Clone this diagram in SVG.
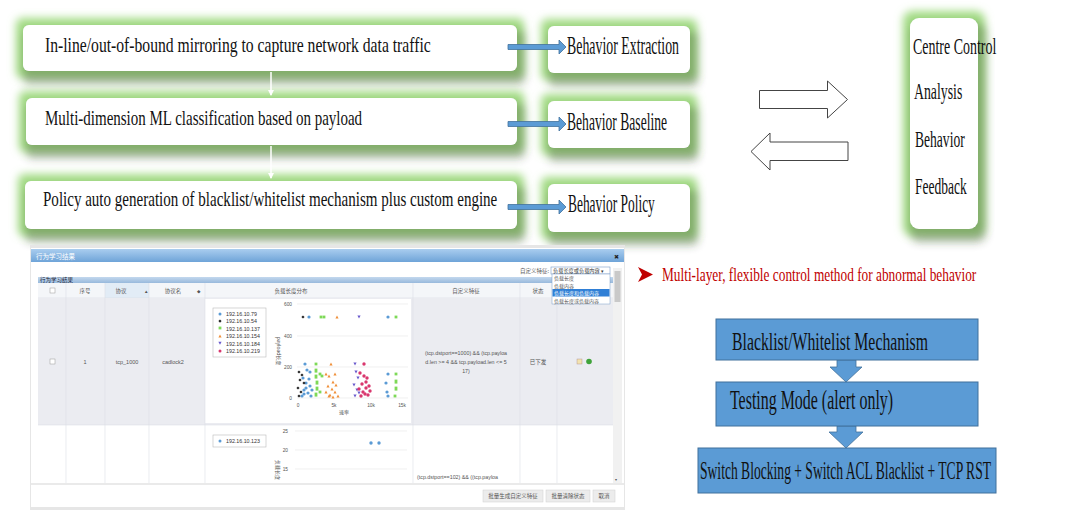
<svg xmlns="http://www.w3.org/2000/svg" width="1080" height="519" viewBox="0 0 1080 519">
<style>
.t{font-family:"Liberation Serif","DejaVu Serif",serif;fill:#111}
.cn{font-family:"Noto Sans CJK SC","Noto Sans",sans-serif;fill:#555}
.sm{font-family:"Liberation Sans","DejaVu Sans",sans-serif;fill:#555}
.wbox{fill:#fff;filter:url(#glow)}
.bbox{fill:#5b9bd5;stroke:#41719c;stroke-width:1}
.barr{fill:#5b9bd5;stroke:#41719c;stroke-width:0.8}
.harr{fill:#fff;stroke:#444;stroke-width:1}
.grid{stroke:#e6e6e6;stroke-width:0.6}
.col{stroke:#dcdfe6;stroke-width:0.6}
</style>
<defs>
<filter id="glow" x="-25%" y="-50%" width="150%" height="220%">
<feMorphology in="SourceAlpha" operator="dilate" radius="7" result="d"/>
<feGaussianBlur in="d" stdDeviation="4" result="b"/>
<feFlood flood-color="#a2db84"/>
<feComposite in2="b" operator="in" result="g"/>
<feOffset in="SourceAlpha" dx="4" dy="9" result="o"/>
<feMorphology in="o" operator="dilate" radius="4" result="od"/>
<feGaussianBlur in="od" stdDeviation="4" result="ob"/>
<feFlood flood-color="#3a4a30" flood-opacity="0.45"/>
<feComposite in2="ob" operator="in" result="s"/>
<feMerge><feMergeNode in="g"/><feMergeNode in="s"/><feMergeNode in="SourceGraphic"/></feMerge>
</filter>
<linearGradient id="tb" x1="0" y1="0" x2="0" y2="1"><stop offset="0" stop-color="#a9cdef"/><stop offset="1" stop-color="#6fa4d8"/></linearGradient>
<linearGradient id="hb" x1="0" y1="0" x2="0" y2="1"><stop offset="0" stop-color="#c3d8ee"/><stop offset="1" stop-color="#98b9dc"/></linearGradient>
<marker id="wh" markerWidth="6" markerHeight="6" refX="5" refY="3" orient="auto" markerUnits="userSpaceOnUse"><path d="M0,0 L6,3 L0,6 z" fill="#fff"/></marker>
</defs>
<rect width="1080" height="519" fill="#fff"/>

<g id="n1"><rect class="wbox" x="23" y="25" width="494" height="46" rx="6"/><text class="t" transform="translate(45,52) scale(0.7,1)" font-size="20" textLength="551" lengthAdjust="spacingAndGlyphs">In-line/out-of-bound mirroring to capture network data traffic</text></g>
<g id="n2"><rect class="wbox" x="26" y="98" width="491" height="47" rx="6"/><text class="t" transform="translate(45,125) scale(0.7,1)" font-size="20" textLength="453" lengthAdjust="spacingAndGlyphs">Multi-dimension ML classification based on payload</text></g>
<g id="n3"><rect class="wbox" x="25" y="181" width="492" height="48" rx="6"/><text class="t" transform="translate(43,206) scale(0.7,1)" font-size="20" textLength="649" lengthAdjust="spacingAndGlyphs">Policy auto generation of blacklist/whitelist mechanism plus custom engine</text></g>

<g id="n4"><rect class="wbox" x="548" y="26" width="142" height="47" rx="6"/><text class="t" transform="translate(567,54) scale(0.7,1)" font-size="25" textLength="160" lengthAdjust="spacingAndGlyphs">Behavior Extraction</text></g>
<g id="n5"><rect class="wbox" x="548" y="101" width="142" height="47" rx="6"/><text class="t" transform="translate(567,130) scale(0.7,1)" font-size="25" textLength="143" lengthAdjust="spacingAndGlyphs">Behavior Baseline</text></g>
<g id="n6"><rect class="wbox" x="548" y="184" width="142" height="48" rx="6"/><text class="t" transform="translate(568,212) scale(0.7,1)" font-size="25" textLength="124" lengthAdjust="spacingAndGlyphs">Behavior Policy</text></g>

<g id="n7"><rect class="wbox" x="910" y="18" width="68" height="211" rx="9"/>
<text class="t" transform="translate(913,54) scale(0.7,1)" font-size="24" textLength="119" lengthAdjust="spacingAndGlyphs">Centre Control</text>
<text class="t" transform="translate(914,99) scale(0.7,1)" font-size="24" textLength="69" lengthAdjust="spacingAndGlyphs">Analysis</text>
<text class="t" transform="translate(915,147) scale(0.7,1)" font-size="24" textLength="71" lengthAdjust="spacingAndGlyphs">Behavior</text>
<text class="t" transform="translate(915,194) scale(0.7,1)" font-size="24" textLength="74" lengthAdjust="spacingAndGlyphs">Feedback</text></g>

<g id="connectors">
<line x1="271" y1="72" x2="271" y2="95" stroke="#fff" stroke-width="1.5" marker-end="url(#wh)"/>
<line x1="271" y1="146" x2="271" y2="178" stroke="#fff" stroke-width="1.5" marker-end="url(#wh)"/>
<path class="barr" d="M508,44.5 H559 V40 L566,47 L559,54 V49.5 H508 z"/>
<path class="barr" d="M508,121.5 H559 V117 L566,124 L559,131 V126.5 H508 z"/>
<path class="barr" d="M508,204.5 H559 V200 L566,207 L559,214 V209.5 H508 z"/>
<path class="harr" d="M759.5,90.5 H827.5 V81 L847.5,99.5 L827.5,118 V108.5 H759.5 z"/>
<path class="harr" d="M848,142 H770 V133 L751,151.5 L770,170 V160.5 H848 z"/>
<path class="barr" d="M837,360 H856 V367 H862 L846,382 L830,367 H837 z"/>
<path class="barr" d="M837,426 H856 V432 H863 L846,448 L829,432 H837 z"/>
</g>

<g id="n8"><path d="M638,267 L653,274.5 L638,282 L642,274.5 z" fill="#c00000"/>
<text transform="translate(662,281) scale(0.7,1)" font-size="18" fill="#c00000" font-family="Liberation Serif,serif" textLength="449" lengthAdjust="spacingAndGlyphs">Multi-layer, flexible control method for abnormal behavior</text></g>

<g id="n9"><rect class="bbox" x="716" y="319" width="262" height="41"/><text class="t" transform="translate(732,350) scale(0.7,1)" font-size="26" textLength="280" lengthAdjust="spacingAndGlyphs">Blacklist/Whitelist Mechanism</text></g>
<g id="n10"><rect class="bbox" x="716" y="382" width="262" height="44"/><text class="t" transform="translate(730,409) scale(0.7,1)" font-size="27" textLength="233" lengthAdjust="spacingAndGlyphs">Testing Mode (alert only)</text></g>
<g id="n11"><rect class="bbox" x="698" y="448" width="298" height="45"/><text class="t" transform="translate(700,479) scale(0.5,1)" font-size="26" textLength="582" lengthAdjust="spacingAndGlyphs">Switch Blocking + Switch ACL Blacklist + TCP RST</text></g>

<g id="screenshot">
<rect x="30" y="245" width="595" height="265" fill="#e6e6e6"/>
<rect x="31" y="248" width="593" height="259" fill="#fff"/>
<rect x="31" y="249" width="593" height="13" fill="url(#tb)"/>
<text class="cn" x="36" y="258.5" font-size="6.5" style="fill:#fff">行为学习结果</text>
<text class="sm" x="614" y="258.5" font-size="6" style="fill:#222">✖</text>
<text class="cn" x="520" y="272.5" font-size="5.5">自定义特征:</text>
<rect x="551" y="267" width="59" height="7" fill="#fff" stroke="#7a9cc8" stroke-width="0.6"/>
<text class="cn" x="553" y="272.5" font-size="5.2" style="fill:#333">负载长度或负载内容 ▾</text>
<rect x="38" y="277" width="575" height="6" fill="url(#hb)"/>
<text class="cn" x="40" y="282" font-size="5.5" style="fill:#223">行为学习结果</text>
<rect x="38" y="283" width="575" height="15" fill="#f4f6f9"/>
<rect x="105" y="283" width="44" height="15" fill="#e2ecf6"/>
<line class="col" x1="38" y1="298" x2="613" y2="298"/>
<rect x="38" y="298" width="575" height="127" fill="#ebecf1"/>
<rect x="205" y="299" width="206" height="124" fill="#fff"/>
<rect x="38" y="425" width="575" height="58" fill="#fff"/>
<g class="col">
<line x1="66" y1="283" x2="66" y2="483"/><line x1="105" y1="283" x2="105" y2="483"/><line x1="149" y1="283" x2="149" y2="483"/><line x1="205" y1="283" x2="205" y2="483"/><line x1="413" y1="283" x2="413" y2="483"/><line x1="520" y1="283" x2="520" y2="483"/><line x1="557" y1="283" x2="557" y2="483"/><line x1="38" y1="425" x2="613" y2="425"/>
</g>
<rect x="50" y="288" width="5" height="5" fill="#fff" stroke="#999" stroke-width="0.5"/>
<text class="cn" x="85" y="293" font-size="5.5" text-anchor="middle">序号</text>
<text class="cn" x="121" y="293" font-size="5.5" text-anchor="middle">协议</text><text class="sm" x="144" y="293" font-size="4.5">▲</text>
<text class="cn" x="173" y="293" font-size="5.5" text-anchor="middle">协议名</text><text class="sm" x="197" y="293" font-size="4.5">◆</text>
<text class="cn" x="291" y="293" font-size="5.5" text-anchor="middle">负载长度分布</text>
<text class="cn" x="466" y="293" font-size="5.5" text-anchor="middle">自定义特征</text>
<text class="cn" x="538" y="293" font-size="5.5" text-anchor="middle">状态</text>
<rect x="50" y="359" width="5" height="5" fill="#fff" stroke="#999" stroke-width="0.5"/>
<text class="sm" x="85" y="364" font-size="5.5" text-anchor="middle">1</text>
<text class="sm" x="127" y="364" font-size="5.5" text-anchor="middle">tcp_1000</text>
<text class="sm" x="173" y="364" font-size="5.5" text-anchor="middle">cadlock2</text>
<text class="sm" x="466" y="355" font-size="5.3" text-anchor="middle">(tcp.dstport==1000) &amp;&amp; (tcp.payloa</text>
<text class="sm" x="466" y="364" font-size="5.3" text-anchor="middle">d.len &gt;= 4 &amp;&amp; tcp.payload.len &lt;= 5</text>
<text class="sm" x="466" y="373" font-size="5.3" text-anchor="middle">17)</text>
<text class="cn" x="538" y="364" font-size="5.5" text-anchor="middle">已下发</text>
<rect x="577" y="359" width="5" height="5" fill="#f3e3b0" stroke="#a88" stroke-width="0.4"/>
<circle cx="589" cy="361.5" r="2.8" fill="#3fa33a"/>
<text class="sm" x="417" y="479" font-size="5.3">(tcp.dstport==102) &amp;&amp; ((tcp.payloa</text>
<rect x="613" y="268" width="9" height="215" fill="#f1f1f1"/>
<rect x="614.5" y="271" width="6" height="31" fill="#c9c9c9"/>
<text class="sm" x="615" y="481" font-size="4">▾</text>
<line x1="31" y1="484" x2="624" y2="484" stroke="#d5d5d5" stroke-width="1"/>
<rect x="483" y="490" width="60" height="12" fill="#ececec" stroke="#d0d0d0" stroke-width="0.5"/>
<text class="cn" x="513" y="498" font-size="5.5" text-anchor="middle">批量生成自定义特征</text>
<rect x="546" y="490" width="44" height="12" fill="#ececec" stroke="#d0d0d0" stroke-width="0.5"/>
<text class="cn" x="568" y="498" font-size="5.5" text-anchor="middle">批量清除状态</text>
<rect x="593" y="490" width="22" height="12" fill="#ececec" stroke="#d0d0d0" stroke-width="0.5"/>
<text class="cn" x="604" y="498" font-size="5.5" text-anchor="middle">取消</text>
<rect x="552" y="274" width="58" height="30" fill="#fff" stroke="#7a9cc8" stroke-width="0.5"/>
<rect x="552.5" y="289" width="57" height="7.5" fill="#2f7fd6"/>
<text class="cn" x="554" y="280" font-size="5">负载长度</text>
<text class="cn" x="554" y="287.5" font-size="5">负载内容</text>
<text class="cn" x="554" y="295" font-size="5" style="fill:#fff">负载长度和负载内容</text>
<text class="cn" x="554" y="302.5" font-size="5">负载长度或负载内容</text>

<g id="chart1">
<rect x="213" y="308" width="53" height="49" fill="#fff" stroke="#bbb" stroke-width="0.6"/>
<circle cx="220" cy="314" r="1.5" fill="#5b9bd5"/><text class="sm" x="226" y="316" font-size="5.3" style="fill:#333">192.16.10.79</text>
<path d="M220,319.5 l1.6,1.6 -1.6,1.6 -1.6,-1.6z" fill="#222"/><text class="sm" x="226" y="323" font-size="5.3" style="fill:#333">192.16.10.54</text>
<rect x="218.6" y="326.6" width="2.8" height="2.8" fill="#7ed957"/><text class="sm" x="226" y="330.5" font-size="5.3" style="fill:#333">192.16.10.137</text>
<path d="M220,334.5 l1.6,3 h-3.2z" fill="#f0903a"/><text class="sm" x="226" y="338" font-size="5.3" style="fill:#333">192.16.10.154</text>
<path d="M218.4,341.8 h3.2 l-1.6,3z" fill="#6a5acd"/><text class="sm" x="226" y="345.5" font-size="5.3" style="fill:#333">192.16.10.184</text>
<circle cx="220" cy="351" r="1.5" fill="#d9376e"/><text class="sm" x="226" y="353" font-size="5.3" style="fill:#333">192.16.10.219</text>
<g class="grid"><line x1="297" y1="304" x2="408" y2="304"/><line x1="297" y1="336" x2="408" y2="336"/><line x1="297" y1="367" x2="408" y2="367"/><line x1="297" y1="398" x2="408" y2="398"/></g>
<g class="sm" font-size="4.8" text-anchor="end"><text x="292" y="306">600</text><text x="292" y="338">400</text><text x="292" y="369">200</text><text x="292" y="400">0</text></g>
<g class="sm" font-size="4.8" text-anchor="middle"><text x="298" y="407">0</text><text x="334" y="407">5k</text><text x="371" y="407">10k</text><text x="402" y="407">15k</text></g>
<text class="cn" x="344" y="414" font-size="5" text-anchor="middle">速率</text>
<text class="cn" x="277" y="351" font-size="5" text-anchor="middle" transform="rotate(90 277 351)">payload长度</text>
<g fill="#5b9bd5"><circle cx="309" cy="317" r="1.6"/><circle cx="388" cy="317" r="1.6"/><circle cx="305" cy="364" r="1.6"/><circle cx="307" cy="370" r="1.6"/><circle cx="310" cy="372" r="1.6"/><circle cx="303" cy="378" r="1.6"/><circle cx="306" cy="383" r="1.6"/><circle cx="310" cy="386" r="1.6"/><circle cx="304" cy="390" r="1.6"/><circle cx="308" cy="393" r="1.6"/><circle cx="311" cy="396" r="1.6"/><circle cx="302" cy="396" r="1.6"/><circle cx="309" cy="379" r="1.6"/><circle cx="312" cy="390" r="1.6"/><circle cx="306" cy="388" r="1.6"/><circle cx="304" cy="394" r="1.6"/><circle cx="388" cy="374" r="1.6"/><circle cx="386" cy="383" r="1.6"/><circle cx="387" cy="392" r="1.6"/><circle cx="388" cy="396" r="1.6"/></g>
<g fill="#222"><path d="M303,315.4 l1.6,1.6 -1.6,1.6 -1.6,-1.6z"/><path d="M299,370.4 l1.6,1.6 -1.6,1.6 -1.6,-1.6z"/><path d="M302,373.4 l1.6,1.6 -1.6,1.6 -1.6,-1.6z"/><path d="M300,378.4 l1.6,1.6 -1.6,1.6 -1.6,-1.6z"/><path d="M304,381.4 l1.6,1.6 -1.6,1.6 -1.6,-1.6z"/><path d="M298,386.4 l1.6,1.6 -1.6,1.6 -1.6,-1.6z"/><path d="M301,390.4 l1.6,1.6 -1.6,1.6 -1.6,-1.6z"/><path d="M299,394.4 l1.6,1.6 -1.6,1.6 -1.6,-1.6z"/></g>
<g fill="#7ed957"><rect x="319.6" y="315.6" width="2.8" height="2.8"/><rect x="322.6" y="315.6" width="2.8" height="2.8"/><rect x="394.6" y="315.6" width="2.8" height="2.8"/><rect x="314.6" y="362.6" width="2.8" height="2.8"/><rect x="314.6" y="368.6" width="2.8" height="4"/><rect x="314.6" y="374.6" width="2.8" height="4"/><rect x="315.6" y="380.6" width="2.8" height="4"/><rect x="315.6" y="386.6" width="2.8" height="4"/><rect x="314.6" y="392.6" width="2.8" height="4"/><rect x="318.6" y="372.6" width="2.8" height="2.8"/><rect x="320.6" y="374.6" width="2.8" height="2.8"/><rect x="318.6" y="390.6" width="2.8" height="2.8"/><rect x="394.6" y="372.6" width="2.8" height="2.8"/><rect x="394.6" y="379.6" width="2.8" height="4"/><rect x="394.6" y="386.6" width="2.8" height="4"/><rect x="393.6" y="394.6" width="2.8" height="2.8"/></g>
<g fill="#f0903a"><path d="M337,315.5 l1.6,3 h-3.2z"/><path d="M331,362.5 l1.6,3 h-3.2z"/><path d="M326,372.5 l1.6,3 h-3.2z"/><path d="M329,374.5 l1.6,3 h-3.2z"/><path d="M335,372.5 l1.6,3 h-3.2z"/><path d="M333,380.5 l1.6,3 h-3.2z"/><path d="M328,384.5 l1.6,3 h-3.2z"/><path d="M326,390.5 l1.6,3 h-3.2z"/><path d="M330,393.5 l1.6,3 h-3.2z"/><path d="M335,390.5 l1.6,3 h-3.2z"/><path d="M338,394.5 l1.6,3 h-3.2z"/><path d="M332,387.5 l1.6,3 h-3.2z"/><path d="M336,383.5 l1.6,3 h-3.2z"/><path d="M329,394.5 l1.6,3 h-3.2z"/><path d="M333,395.5 l1.6,3 h-3.2z"/></g>
<g fill="#6a5acd"><path d="M357.4,315.5 h3.2 l-1.6,3z"/><path d="M353.4,362.5 h3.2 l-1.6,3z"/><path d="M354.4,370.5 h3.2 l-1.6,3z"/><path d="M356.4,376.5 h3.2 l-1.6,3z"/><path d="M352.4,383.5 h3.2 l-1.6,3z"/><path d="M355.4,388.5 h3.2 l-1.6,3z"/><path d="M353.4,394.5 h3.2 l-1.6,3z"/><path d="M357.4,391.5 h3.2 l-1.6,3z"/></g>
<g fill="#d9376e"><circle cx="364" cy="364" r="1.7"/><circle cx="360" cy="373" r="1.7"/><circle cx="364" cy="376" r="1.7"/><circle cx="367" cy="378" r="1.7"/><circle cx="362" cy="384" r="1.7"/><circle cx="366" cy="388" r="1.7"/><circle cx="363" cy="392" r="1.7"/><circle cx="368" cy="395" r="1.7"/><circle cx="361" cy="396" r="1.7"/><circle cx="369" cy="386" r="1.7"/><circle cx="365" cy="394" r="1.7"/><circle cx="359" cy="389" r="1.7"/><circle cx="370" cy="391" r="1.7"/><circle cx="366" cy="382" r="1.7"/></g>
</g>
<g id="chart2">
<rect x="213" y="435" width="53" height="12" fill="#fff" stroke="#bbb" stroke-width="0.6"/>
<circle cx="220" cy="441" r="1.5" fill="#5b9bd5"/><text class="sm" x="226" y="443" font-size="5.3" style="fill:#333">192.16.10.123</text>
<g class="grid"><line x1="295" y1="431" x2="407" y2="431"/><line x1="295" y1="450" x2="407" y2="450"/><line x1="295" y1="469" x2="407" y2="469"/></g>
<g class="sm" font-size="4.8" text-anchor="end"><text x="288" y="433">25</text><text x="288" y="452">20</text><text x="288" y="471">15</text></g>
<text class="cn" x="276" y="470" font-size="5" text-anchor="middle" transform="rotate(90 276 470)">负载长度</text>
<circle cx="371" cy="443" r="1.7" fill="#5b9bd5"/><circle cx="379" cy="443" r="1.7" fill="#5b9bd5"/>
</g>
</g>
</svg>
